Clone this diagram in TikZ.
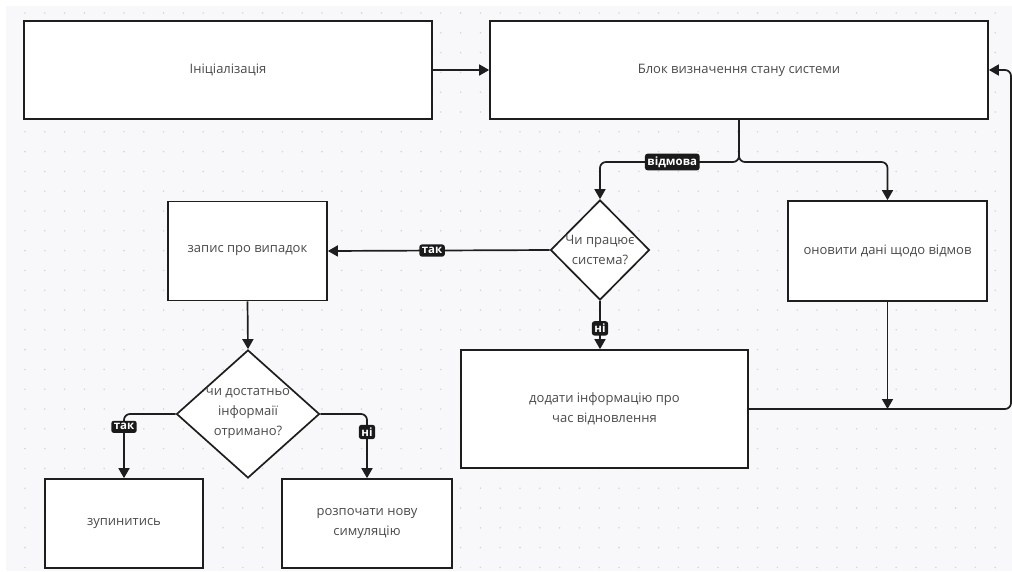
\documentclass[tikz,border=0pt]{standalone}
\usepackage{fontspec}
\setmainfont{Open Sans}
\usetikzlibrary{arrows.meta,shapes.geometric}
\definecolor{canvas}{HTML}{F8F8FA}
\definecolor{dotc}{HTML}{D6D6DC}
\definecolor{txt}{HTML}{4A4A4A}
\definecolor{edge}{HTML}{1E1E1E}
\definecolor{labbg}{HTML}{1A1A1A}
\begin{document}
\begin{tikzpicture}[x=1pt,y=-1pt,
  box/.style={draw=edge, line width=1.7pt, fill=white, text=txt, align=center,
    font=\fontsize{13}{20}\selectfont, inner sep=0pt},
  dia/.style={box, diamond, aspect=1, inner sep=-12pt},
  conn/.style={draw=edge, line width=1.7pt, rounded corners=6pt, -{Triangle[length=10pt,width=11pt]}},
  lab/.style={fill=labbg, text=white, rounded corners=2.5pt, inner xsep=2.5pt, inner ysep=2.8pt,
    font=\fontsize{11.5}{13}\selectfont\bfseries}
]
\useasboundingbox (0,0) rectangle (1012,571);
\fill[white] (0,0) rectangle (1012,571);
\fill[canvas] (6,6) rectangle (1012,571);
\begin{scope}
  \clip (6,6) rectangle (1012,571);
  \foreach \i in {0,...,50} {
    \foreach \j in {0,...,28} {
      \fill[dotc] ({25+19.8*\i},{13+19.8*\j}) circle (0.9pt);
    }
  }
\end{scope}

% nodes
\node[box, minimum width=408pt, minimum height=98pt] (init) at (228,70) {Ініціалізація};
\node[box, minimum width=498pt, minimum height=98pt] (block) at (739,70) {Блок визначення стану системи};
\node[dia, minimum width=99pt, minimum height=100pt] (ask1) at (600,250) {Чи працює\\система?};
\node[box, minimum width=199pt, minimum height=100pt] (onov) at (887.5,251) {оновити дані щодо відмов};
\node[box, minimum width=159pt, minimum height=99pt] (zapys) at (247.5,251) {запис про випадок};
\node[box, minimum width=287pt, minimum height=118pt] (add) at (604.5,409) {додати інформацію про\\час відновлення};
\node[dia, minimum width=143pt, minimum height=128pt] (ask2) at (248,414) {чи достатньо\\інформаії\\отримано?};
\node[box, minimum width=158pt, minimum height=89pt] (stop) at (124,523.5) {зупинитись};
\node[box, minimum width=170pt, minimum height=89pt] (restart) at (367,523.5) {розпочати нову\\симуляцію};

\coordinate (split) at (739,162);
\coordinate (rc) at (1011,0);

% connectors
\draw[conn] (init.east) -- (block.west);
\draw[conn] (block.south) -- (split) -| node[lab, pos=0.24] {відмова} (ask1.north);
\draw[conn] (block.south) -- (split) -| (onov.north);
\draw[conn] (ask1.west) -- node[lab, pos=0.53] {так} (zapys.east);
\draw[conn] (ask1.south) -- node[lab, pos=0.57] {ні} (ask1.south |- add.north);
\draw[conn] (zapys.south) -- (ask2.north);
\draw[conn] (ask2.west) -| node[lab, pos=0.6] {так} (stop.north);
\draw[conn] (ask2.east) -| node[lab, pos=0.64] {ні} (restart.north);
\draw[conn] (onov.south) -- (onov.south |- add.east);
\draw[conn] (add.east) -- (add.east -| rc) -- (rc |- block.east) -- (block.east);
\end{tikzpicture}
\end{document}
